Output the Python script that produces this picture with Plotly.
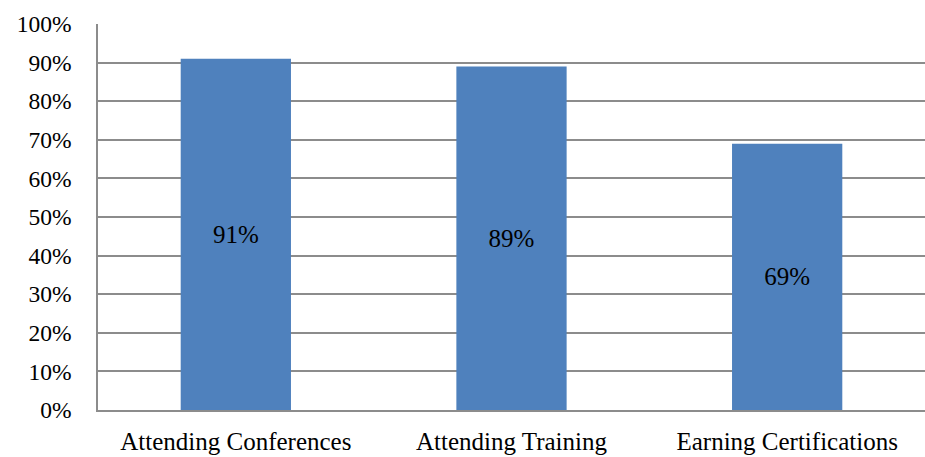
import plotly.graph_objects as go

categories = ["Attending Conferences", "Attending Training", "Earning Certifications"]
values = [91, 89, 69]
labels = ["91%", "89%", "69%"]
tick_vals = [0, 10, 20, 30, 40, 50, 60, 70, 80, 90, 100]
tick_text = ["0%", "10%", "20%", "30%", "40%", "50%", "60%", "70%", "80%", "90%", "100%"]

FONT = "Liberation Serif"

fig = go.Figure(go.Bar(
    x=categories, y=values, text=labels,
    textposition="inside", insidetextanchor="middle",
    textfont=dict(family=FONT, size=25, color="black"),
    marker=dict(color="#4F81BD", line=dict(width=0)),
    width=0.4,
))

fig.update_layout(
    width=925, height=457,
    margin=dict(l=98, r=0, t=24, b=47),
    paper_bgcolor="white", plot_bgcolor="white",
    font=dict(family=FONT, size=24, color="black"),
    showlegend=False,
    uniformtext=dict(minsize=25, mode="show"),
)
fig.update_yaxes(
    range=[0, 100], tickvals=tick_vals, ticktext=tick_text,
    tickfont=dict(family=FONT, size=23.5, color="black"),
    showgrid=True, gridcolor="#8C8C8C", gridwidth=1.5,
    showline=True, linecolor="#8C8C8C", linewidth=1.5,
    ticks="outside", ticklen=20, tickcolor="rgba(0,0,0,0)",
    zeroline=False, fixedrange=True,
)
fig.update_xaxes(
    tickfont=dict(family=FONT, size=25, color="black"),
    showline=True, linecolor="#8C8C8C", linewidth=1.5,
    ticks="outside", ticklen=8, tickcolor="rgba(0,0,0,0)",
    showgrid=False,
)
fig.update_traces(cliponaxis=False)
fig.write_html("out.html")
